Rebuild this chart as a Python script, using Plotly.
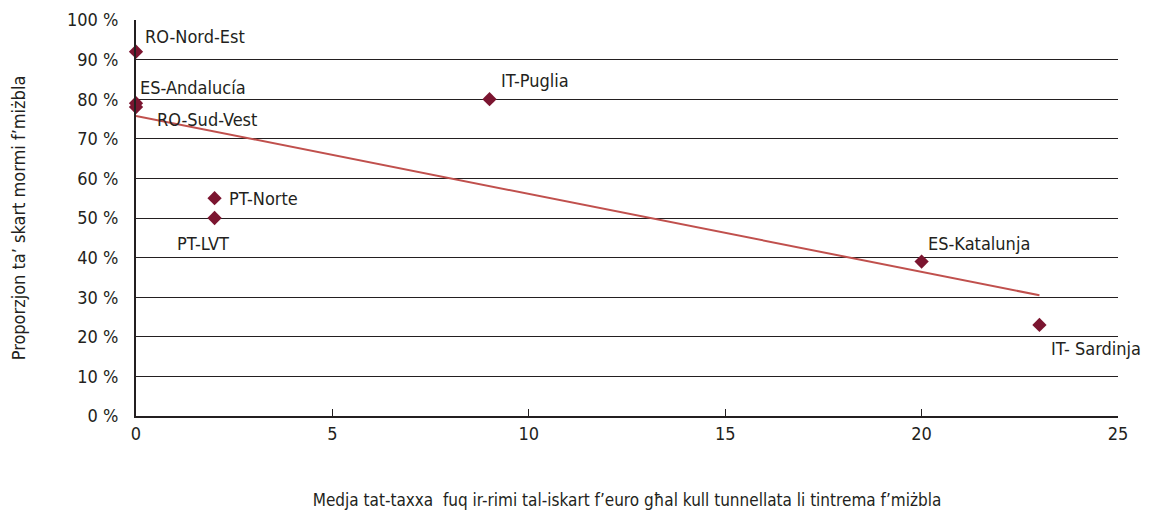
import numpy as np
import plotly.graph_objects as go

regions = ["RO-Nord-Est", "ES-Andalucía", "RO-Sud-Vest", "IT-Puglia",
           "PT-Norte", "PT-LVT", "ES-Katalunja", "IT- Sardinja"]
tax_eur = [0, 0, 0, 9, 2, 2, 20, 23]
share_pct = [92, 79, 78, 80, 55, 50, 39, 23]
x_ticks = [0, 5, 10, 15, 20, 25]
y_ticks = [0, 10, 20, 30, 40, 50, 60, 70, 80, 90, 100]
y_tick_labels = [f"{v} %" for v in y_ticks]

# label offsets in pixels (style only)
label_dx = [7, 2, 19, 9, 12, -40, 4, 10]
label_dy = [15, 16, -12, 19, 0, -25, 18, -24]

FONT = "DejaVu Sans Condensed, Liberation Sans Narrow, sans-serif"
TXT = "#231F20"

slope, intercept = np.polyfit(tax_eur, share_pct, 1)
xt = np.array([min(tax_eur), max(tax_eur)])
yt = slope * xt + intercept

fig = go.Figure()
fig.add_trace(go.Scatter(x=xt, y=yt, mode="lines",
                         line=dict(color="#C0504D", width=2), hoverinfo="skip",
                         showlegend=False))
fig.add_trace(go.Scatter(x=tax_eur, y=share_pct, mode="markers",
                         marker=dict(symbol="diamond", size=11, color="#7B1530"),
                         showlegend=False, cliponaxis=False))

for name, x, y, dx, dy in zip(regions, tax_eur, share_pct, label_dx, label_dy):
    fig.add_annotation(x=x, y=y, xref="x", yref="y", text=name, showarrow=False,
                       xanchor="left", yanchor="middle", xshift=dx, yshift=dy,
                       font=dict(family=FONT, size=18, color=TXT))

fig.update_xaxes(range=[0, 25], tickvals=x_ticks, showgrid=False, automargin=False,
                 showline=True, linecolor="#231F20", linewidth=2,
                 ticks="inside", ticklen=7, tickcolor="#231F20", tickwidth=1,
                 zeroline=False,
                 tickfont=dict(family=FONT, size=18, color=TXT),
                 title=dict(text="Medja tat-taxxa  fuq ir-rimi tal-iskart f’euro għal kull tunnellata li tintrema f’miżbla",
                            font=dict(family=FONT, size=17, color=TXT), standoff=54))
fig.update_yaxes(range=[0, 100], tickvals=y_ticks, ticktext=y_tick_labels,
                 showgrid=True, gridcolor="#231F20", gridwidth=1, automargin=False,
                 showline=True, linecolor="#231F20", linewidth=2,
                 zeroline=False, ticks="", ticklabelstandoff=12,
                 tickfont=dict(family=FONT, size=18, color=TXT),
                 title=dict(text="Proporzjon ta’ skart mormi f’miżbla",
                            font=dict(family=FONT, size=18, color=TXT), standoff=38))

fig.update_layout(width=1136, height=502, plot_bgcolor="white", paper_bgcolor="white",
                  margin=dict(l=128, r=26, t=12, b=94))
fig.write_html("out.html")
